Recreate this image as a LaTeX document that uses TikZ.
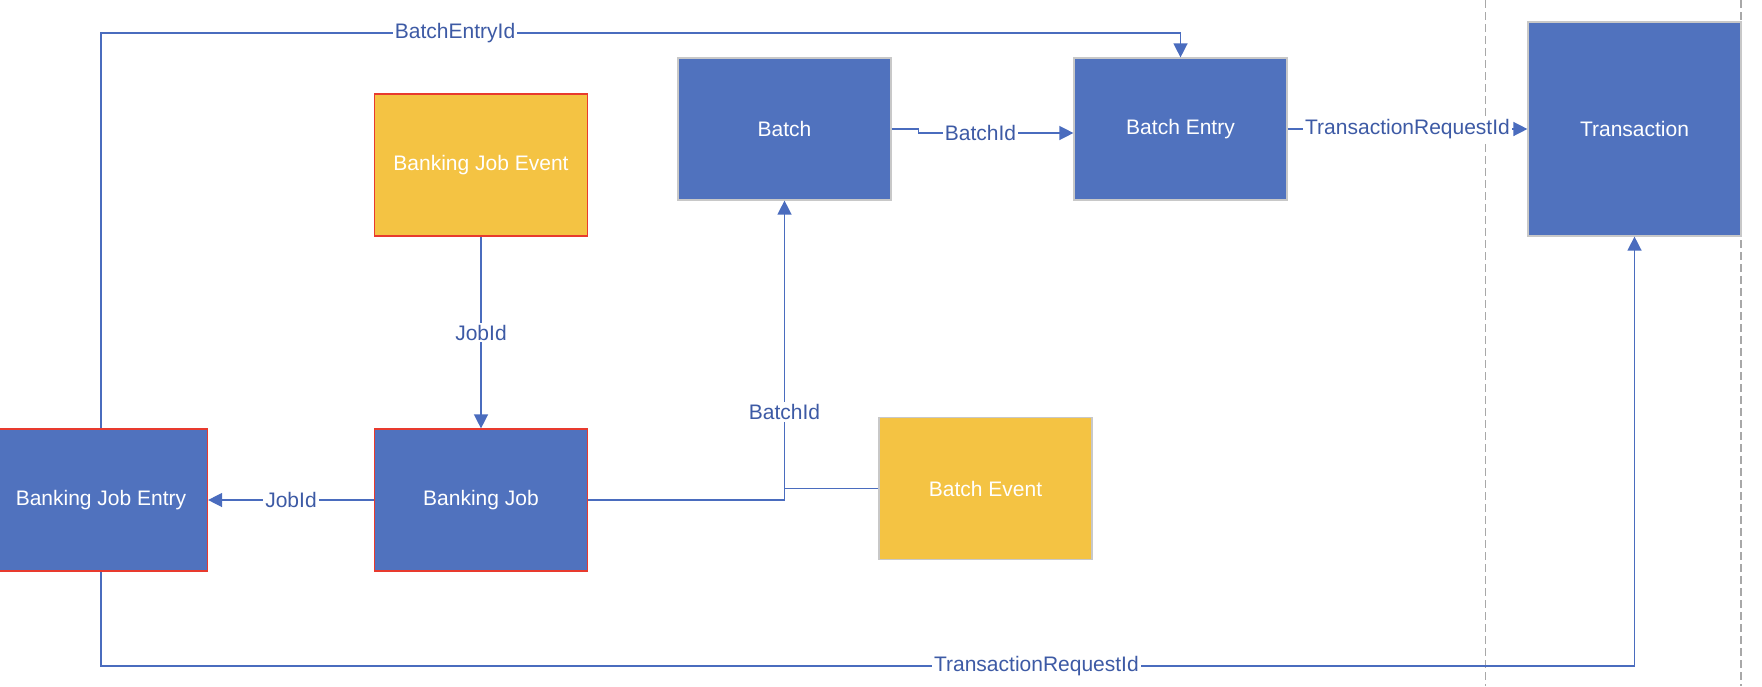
\documentclass[tikz,border=0pt]{standalone}
\usepackage{fontspec}
\setmainfont{Liberation Sans}
\usetikzlibrary{arrows.meta}
\definecolor{boxblue}{HTML}{5072BE}
\definecolor{lineblue}{HTML}{4A6CBE}
\definecolor{lblblue}{HTML}{3D5AA5}
\definecolor{evyellow}{HTML}{F4C343}
\definecolor{edgered}{HTML}{E83A2E}
\definecolor{edgegray}{HTML}{C8C8C8}
\definecolor{sepgray}{HTML}{A8A8A8}
\begin{document}
\begin{tikzpicture}[x=0.5pt, y=-0.5pt,
  font=\fontsize{10.5}{12}\selectfont,
  ent/.style={rectangle, draw=edgegray, line width=0.6pt, fill=boxblue, text=white,
    minimum width=106.5pt, minimum height=71pt, inner sep=0pt},
  red edge/.style={draw=edgered},
  evt/.style={ent, fill=evyellow},
  link/.style={draw=lineblue, line width=0.7pt, -{Triangle[length=7pt, width=7pt]}},
  plain link/.style={draw=lineblue, line width=0.7pt},
  lbl/.style={fill=white, text=lblblue, inner sep=1pt}]
\useasboundingbox (0,0) rectangle (1762,686);
% separators
\draw[sepgray, line width=0.8pt, dash pattern=on 4pt off 2pt] (1485.5,0) -- (1485.5,686);
\draw[sepgray, line width=0.8pt, dash pattern=on 4pt off 2pt] (1741,0) -- (1741,686);
% entities
\node[ent, red edge] (bjentry) at (101,500){Banking Job Entry};
\node[ent, red edge] (bjob) at (481,500){Banking Job};
\node[evt, red edge] (bjevent) at (481,165){Banking Job Event};
\node[ent] (batch) at (784.5,129){Batch};
\node[ent] (bentry) at (1180.5,129){Batch Entry};
\node[ent, minimum height=107pt] (trans) at (1634.5,129){Transaction};
\node[evt] (bevent) at (985.5,488.5){Batch Event};
\coordinate (toprun) at (0,33);
\coordinate (botrun) at (0,666);
% links
\draw[link] (bjevent.south) -- node[lbl]{JobId} (bjob.north);
\draw[link] (bjob.west) -- node[lbl]{JobId} (bjentry.east);
\draw[link] (bjob.east) -| node[pos=0.647, lbl]{BatchId} (batch.south);
\draw[plain link] (bevent.west) -- (bevent.west -| batch.south);
\draw[link] (batch.east) -- ++(27,0) |- node[pos=0.70, lbl]{BatchId} ([yshift=-2pt]bentry.west);
\draw[link] (bentry.east) -- node[lbl]{TransactionRequestId} (trans.west);
\draw[link] (bjentry.north) |- node[pos=0.664, lbl]{BatchEntryId} (toprun -| bentry.north) -- (bentry.north);
\draw[link] (bjentry.south) |- node[pos=0.805, lbl]{TransactionRequestId} (botrun -| trans.south) -- (trans.south);
\end{tikzpicture}
\end{document}
